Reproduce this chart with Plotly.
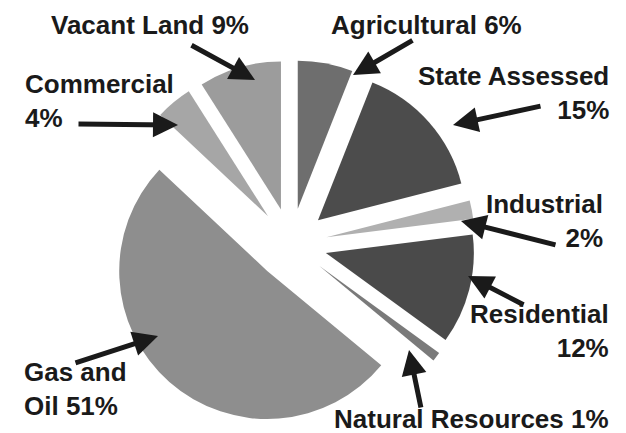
import plotly.graph_objects as go

categories = ["Agricultural", "State Assessed", "Industrial", "Residential",
              "Natural Resources", "Gas and Oil", "Commercial", "Vacant Land"]
values = [6, 15, 2, 12, 1, 51, 4, 9]
colors = ["#6e6e6e", "#4c4c4c", "#b0b0b0", "#4a4a4a",
          "#7a7a7a", "#8e8e8e", "#a6a6a6", "#9c9c9c"]

W, H = 626, 433
R = 148
PULL = 0.243
box = R * (2 + 2 * PULL)
cx, cy = 283, 236
dom_x = [(cx - box / 2) / W, (cx + box / 2) / W]
dom_y = [1 - (cy + box / 2) / H, 1 - (cy - box / 2) / H]

fig = go.Figure(go.Pie(
    labels=categories, values=values, sort=False, direction="clockwise",
    rotation=0, pull=[PULL] * len(values), textinfo="none",
    marker=dict(colors=colors, line=dict(color="white", width=0)),
    domain=dict(x=dom_x, y=dom_y), showlegend=False,
))

font = dict(family="Liberation Sans, Arial, sans-serif", size=26, color="#1a1a1a", weight="bold")

def px(x):
    return x / W

def py(y):
    return 1 - y / H

# text, x, y, xanchor, yanchor
labels = [
    ("Vacant Land 9%", 41, 0, "left", "top"),
    ("Agricultural 6%", 321, 0, "left", "top"),
    ("State Assessed<br>15%", 603, 85, "right", "middle"),
    ("Commercial<br>4%", 15, 93, "left", "middle"),
    ("Industrial<br>2%", 597, 213, "right", "middle"),
    ("Residential<br>12%", 603, 323, "right", "middle"),
    ("Gas and<br>Oil 51%", 14, 381, "left", "middle"),
    ("Natural Resources 1%", 603, 428, "right", "bottom"),
]
ann = []
for text, x, y, xa, ya in labels:
    ann.append(dict(text=text, x=px(x), y=py(y), xref="paper", yref="paper",
                    xanchor=xa, yanchor=ya, align=xa, showarrow=False,
                    font=font))

arrows = [  # head (x,y), tail (x,y)
    ((247, 72), (183, 37)),
    ((345, 67), (405, 32)),
    ((445, 117), (533, 98)),
    ((170, 117), (70, 116)),
    ((453, 213), (548, 237)),
    ((460, 268), (516, 297)),
    ((401, 342), (413, 400)),
    ((150, 328), (67, 355)),
]
for (hx, hy), (tx, ty) in arrows:
    ann.append(dict(text="", x=px(hx), y=py(hy), xref="paper", yref="paper",
                    ax=tx - hx, ay=ty - hy, showarrow=True, arrowhead=2,
                    arrowsize=1.0, arrowwidth=5, arrowcolor="#1a1a1a",
                    standoff=0, startstandoff=0, font=dict(size=1),
                    borderpad=0))

fig.update_layout(width=W, height=H, margin=dict(l=0, r=0, t=0, b=0),
                  paper_bgcolor="white", plot_bgcolor="white", annotations=ann)
fig.write_html("out.html")
